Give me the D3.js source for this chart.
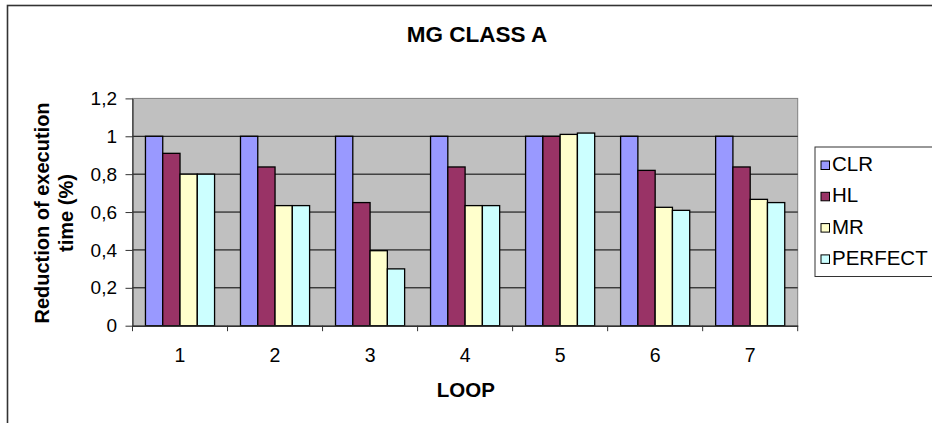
<!DOCTYPE html>
<html>
<head>
<meta charset="utf-8">
<script src="https://cdn.jsdelivr.net/npm/d3@7"></script>
<style>
  html, body { margin: 0; padding: 0; background: #ffffff; }
  svg { display: block; font-family: "Liberation Sans", Arial, sans-serif; }
</style>
</head>
<body>
<svg id="chart" width="932" height="423"></svg>
<script>
// Loop numbers on the x axis
const loops = ["1", "2", "3", "4", "5", "6", "7"];
// Series names and fills
const seriesNames = ["CLR", "HL", "MR", "PERFECT"];
const seriesColors = ["#9999FF", "#993366", "#FFFFCC", "#CCFFFF"];
// Reduction of execution time per loop
const clr     = [1.00, 1.00, 1.00, 1.00, 1.00, 1.00, 1.00];
const hl      = [0.91, 0.838, 0.65, 0.838, 1.00, 0.82, 0.838];
const mr      = [0.80, 0.634, 0.396, 0.634, 1.01, 0.625, 0.667];
const perfect = [0.80, 0.634, 0.30, 0.634, 1.017, 0.609, 0.65];
// Y axis ticks and their labels (decimal comma)
const yTicks = [0, 0.2, 0.4, 0.6, 0.8, 1.0, 1.2];
const yTickLabels = ["0", "0,2", "0,4", "0,6", "0,8", "1", "1,2"];

const seriesValues = [clr, hl, mr, perfect];
const rows = loops.map((loop, i) => ({
  loop,
  values: seriesNames.map((name, s) => ({ name, value: seriesValues[s][i], color: seriesColors[s] }))
}));

const svg = d3.select("#chart");

// Outer chart frame
svg.append("rect")
  .attr("x", 7.5).attr("y", 5.5)
  .attr("width", 960).attr("height", 440)
  .attr("fill", "#ffffff")
  .attr("stroke", "#333333").attr("stroke-width", 1.6);

// Plot area
const plot = { left: 132.5, right: 797.7, top: 98.4, bottom: 325.7 };

const x0 = d3.scaleBand().domain(loops).range([plot.left, plot.right]).padding(0);
const bw = x0.bandwidth();
const gap = 0.75 * bw / 5.5; // gap width of 150% split on both sides
const x1 = d3.scaleBand().domain(seriesNames).range([gap, bw - gap]).padding(0);
const y = d3.scaleLinear().domain([0, 1.2]).range([plot.bottom, plot.top]);

svg.append("rect")
  .attr("x", plot.left).attr("y", y(1.2))
  .attr("width", plot.right - plot.left).attr("height", y(0) - y(1.2))
  .attr("fill", "#C0C0C0")
  .attr("stroke", "#808080").attr("stroke-width", 1);

// Horizontal gridlines
svg.append("g")
  .selectAll("line")
  .data(yTicks.filter(t => t > 0 && t < 1.2))
  .join("line")
  .attr("x1", plot.left).attr("x2", plot.right)
  .attr("y1", d => y(d)).attr("y2", d => y(d))
  .attr("stroke", "#000000").attr("stroke-width", 1);

// Bars
const groups = svg.append("g")
  .selectAll("g")
  .data(rows)
  .join("g")
  .attr("transform", d => `translate(${x0(d.loop)},0)`);

groups.selectAll("rect")
  .data(d => d.values)
  .join("rect")
  .attr("x", d => x1(d.name))
  .attr("y", d => y(d.value))
  .attr("width", x1.bandwidth())
  .attr("height", d => y(0) - y(d.value))
  .attr("fill", d => d.color)
  .attr("stroke", "#000000")
  .attr("stroke-width", 1.3);

// Y axis
const yAxis = svg.append("g")
  .attr("transform", `translate(${plot.left},0)`)
  .call(d3.axisLeft(y).tickValues(yTicks)
    .tickFormat((d, i) => yTickLabels[i])
    .tickSize(7).tickSizeOuter(0).tickPadding(8.5));
yAxis.select(".domain").attr("stroke", "#333333").attr("stroke-width", 1.2);
yAxis.selectAll(".tick line").attr("stroke", "#333333");
yAxis.selectAll("text")
  .attr("font-size", 19)
  .attr("fill", "#000000")
  .attr("font-family", "Liberation Sans, Arial, sans-serif");

// X axis: labels centred on each loop, tick marks between loops
const xAxis = svg.append("g")
  .attr("transform", `translate(0,${plot.bottom})`)
  .call(d3.axisBottom(x0).tickSize(0).tickSizeOuter(0).tickPadding(0));
xAxis.select(".domain").attr("stroke", "#333333").attr("stroke-width", 1.4);
xAxis.selectAll("text")
  .attr("y", 36.3).attr("dy", 0)
  .attr("font-size", 19.5)
  .attr("fill", "#000000")
  .attr("font-family", "Liberation Sans, Arial, sans-serif");

const boundaries = loops.map(l => x0(l)).concat([x0(loops[loops.length - 1]) + bw]);
svg.append("g")
  .selectAll("line")
  .data(boundaries)
  .join("line")
  .attr("x1", d => d).attr("x2", d => d)
  .attr("y1", plot.bottom).attr("y2", plot.bottom + 5.5)
  .attr("stroke", "#333333").attr("stroke-width", 1);

// Title
svg.append("text")
  .attr("x", 477).attr("y", 42)
  .attr("text-anchor", "middle")
  .attr("font-size", 22.5).attr("font-weight", "bold")
  .text("MG CLASS A");

// Y axis title (two lines)
const yTitleLines = ["Reduction of execution", "time (%)"];
svg.append("g")
  .selectAll("text")
  .data(yTitleLines)
  .join("text")
  .attr("transform", (d, i) => `translate(${49 + i * 24},213) rotate(-90)`)
  .attr("text-anchor", "middle")
  .attr("font-size", 20).attr("font-weight", "bold")
  .text(d => d);

// X axis title
svg.append("text")
  .attr("x", 465.8).attr("y", 397)
  .attr("text-anchor", "middle")
  .attr("font-size", 20.5).attr("font-weight", "bold")
  .text("LOOP");

// Legend
const legend = svg.append("g");
legend.append("rect")
  .attr("x", 815).attr("y", 147)
  .attr("width", 140).attr("height", 129.5)
  .attr("fill", "#ffffff")
  .attr("stroke", "#333333").attr("stroke-width", 1);

const items = legend.selectAll("g")
  .data(seriesNames)
  .join("g")
  .attr("transform", (d, i) => `translate(0,${165.5 + i * 31.3})`);
items.append("rect")
  .attr("x", 821).attr("y", -4.5)
  .attr("width", 8.5).attr("height", 8.5)
  .attr("fill", (d, i) => seriesColors[i])
  .attr("stroke", "#000000").attr("stroke-width", 1);
items.append("text")
  .attr("x", 832).attr("y", 5.5)
  .attr("font-size", 20.5)
  .text(d => d);
</script>
</body>
</html>
